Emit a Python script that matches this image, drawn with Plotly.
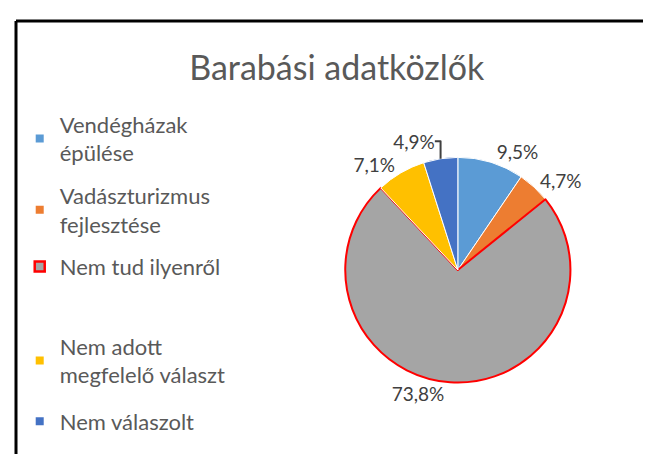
import plotly.graph_objects as go

categories = [
    "Vendégházak<br>épülése",
    "Vadászturizmus<br>fejlesztése",
    "Nem tud ilyenről",
    "Nem adott<br>megfelelő választ",
    "Nem válaszolt",
]
values = [9.5, 4.7, 73.8, 7.1, 4.9]
colors = ["#5B9BD5", "#ED7D31", "#A5A5A5", "#FFC000", "#4472C4"]
line_colors = ["#FFFFFF", "#FFFFFF", "#FF0000", "#FFFFFF", "#FFFFFF"]
line_widths = [1, 1, 2, 1, 1]
legend_ids = ["legend", "legend", "legend", "legend2", "legend2"]

W, H = 651, 454
font_family = "Lato, 'Open Sans', sans-serif"

fig = go.Figure()
fig.add_trace(go.Pie(
    labels=categories,
    values=values,
    sort=False,
    direction="clockwise",
    rotation=0,
    marker=dict(colors=colors, line=dict(color=line_colors, width=line_widths)),
    textposition="outside",
    texttemplate="%{value:.1f}%",
    textfont=dict(size=19, color="#404040", family=font_family),
    hoverinfo="label+percent",
    showlegend=False,
    domain=dict(x=[0.511, 0.871], y=[0.175, 0.671]),
))

# legend entries (same categories / colours as the slices)
for i, (name, col, lc) in enumerate(zip(categories, colors, line_colors)):
    red = lc != "#FFFFFF"
    fig.add_trace(go.Scatter(
        x=[None], y=[None], mode="markers", name=name,
        legend=legend_ids[i], legendgroup=f"g{i}",
        marker=dict(symbol="square", size=10 if red else 8, color=col,
                    line=dict(color="#FF0000" if red else col, width=2.5 if red else 0)),
        hoverinfo="skip",
    ))

legend_font = dict(size=22, color="#595959", family=font_family)
fig.update_layout(
    width=W, height=H,
    separators=", ",
    paper_bgcolor="white",
    plot_bgcolor="white",
    margin=dict(l=0, r=0, t=0, b=0),
    xaxis=dict(visible=False),
    yaxis=dict(visible=False),
    title=dict(
        text="Barabási adatközlők",
        x=0.505, xanchor="center",
        y=0.868, yanchor="middle",
        font=dict(size=34, color="#595959", family=font_family),
    ),
    legend=dict(
        x=0.018, xanchor="left",
        y=0.79, yanchor="top",
        font=legend_font,
        itemwidth=30,
        tracegroupgap=11,
        bgcolor="rgba(0,0,0,0)",
    ),
    legend2=dict(
        x=0.018, xanchor="left",
        y=0.301, yanchor="top",
        font=legend_font,
        itemwidth=30,
        tracegroupgap=15,
        bgcolor="rgba(0,0,0,0)",
    ),
    shapes=[
        dict(type="line", xref="paper", yref="paper", x0=8 / W, x1=1, y0=1 - 13 / H, y1=1 - 13 / H,
             line=dict(color="black", width=3)),
        dict(type="line", xref="paper", yref="paper", x0=8 / W, x1=8 / W, y0=0, y1=1 - 13 / H,
             line=dict(color="black", width=3)),
    ],
)

fig.write_html("out.html")
